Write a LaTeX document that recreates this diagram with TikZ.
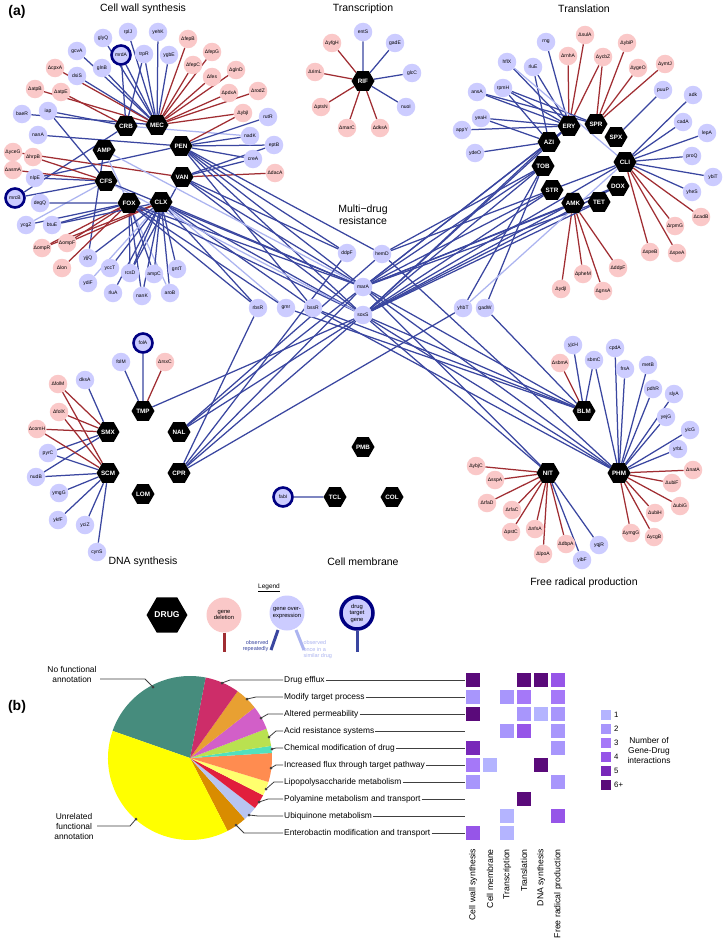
\documentclass[tikz,border=0pt]{standalone}
\usepackage{fontspec}
\setmainfont{Liberation Sans}
\usetikzlibrary{shapes.geometric,backgrounds}
\definecolor{ovr}{RGB}{204,204,255}
\definecolor{dln}{RGB}{250,200,200}
\definecolor{navy}{RGB}{0,0,130}
\definecolor{edgeb}{RGB}{58,70,160}
\definecolor{edger}{RGB}{160,45,50}
\definecolor{edgel}{RGB}{172,180,240}
\definecolor{lead}{RGB}{64,64,64}
\definecolor{c1}{RGB}{180,180,255}
\definecolor{c2}{RGB}{168,150,252}
\definecolor{c3}{RGB}{165,120,248}
\definecolor{c4}{RGB}{150,85,232}
\definecolor{c5}{RGB}{120,40,185}
\definecolor{c6}{RGB}{90,10,122}
\definecolor{pEnt}{RGB}{217,140,0}
\definecolor{pUbi}{RGB}{184,196,240}
\definecolor{pPol}{RGB}{225,30,60}
\definecolor{pLps}{RGB}{255,255,110}
\definecolor{pFlx}{RGB}{255,140,80}
\definecolor{pChm}{RGB}{80,225,190}
\definecolor{pAcd}{RGB}{185,225,80}
\definecolor{pPrm}{RGB}{210,95,200}
\definecolor{pMod}{RGB}{232,160,50}
\definecolor{pEff}{RGB}{205,45,105}
\definecolor{pNof}{RGB}{70,140,125}
\definecolor{pUnr}{RGB}{255,255,0}

\begin{document}
\begin{tikzpicture}[x=1pt,y=-1pt,
  gene/.style={circle,fill=ovr,minimum size=18.5pt,inner sep=0pt,font=\fontsize{5}{5}\selectfont},
  del/.style={gene,fill=dln},
  tgt/.style={gene,draw=navy,line width=2.6pt,minimum size=19pt},
  drug/.style={regular polygon,regular polygon sides=6,fill=black,text=white,minimum size=23pt,inner sep=0pt,font=\fontsize{6.3}{6}\selectfont\bfseries},
  up/.style={draw=edgeb,line width=1.25pt},
  dn/.style={draw=edger,line width=1.25pt},
  once/.style={draw=edgel,line width=1.25pt},
  ttl/.style={font=\fontsize{10.5}{12}\selectfont,align=center},
  lbl/.style={font=\fontsize{8.4}{9.5}\selectfont,anchor=west,inner sep=1pt},
  sq/.style={minimum size=14pt,inner sep=0pt},
  ptr/.style={draw=lead,line width=0.8pt},
  dot/.style={circle,fill=lead,inner sep=0pt,minimum size=3pt}]
\useasboundingbox (0,0) rectangle (724,942);

\node[font=\fontsize{14}{14}\selectfont\bfseries] (pa) at (17,12) {(a)};
\node[ttl] (t1) at (143,9) {Cell wall synthesis};
\node[ttl] (t2) at (363,9) {Transcription};
\node[ttl] (t3) at (584,9) {Translation};
\node[ttl] (t4) at (363,215) {Multi−drug\\resistance};
\node[ttl] (t5) at (143,562) {DNA synthesis};
\node[ttl] (t6) at (363,562) {Cell membrane};
\node[ttl] (t7) at (584,583) {Free radical production};

% cell wall synthesis
\node[drug] (CRB) at (126,126) {CRB};
\node[drug] (MEC) at (157,125) {MEC};
\node[drug] (AMP) at (104,150) {AMP};
\node[drug] (PEN) at (181,146) {PEN};
\node[drug] (CFS) at (106,181) {CFS};
\node[drug] (VAN) at (182,177) {VAN};
\node[drug] (FOX) at (129,203) {FOX};
\node[drug] (CLX) at (161,202) {CLX};
\node[gene] (glyQ) at (103,38) {glyQ};
\node[gene] (rplJ) at (128,32) {rplJ};
\node[gene] (yehK) at (158,32) {yehK};
\node[del] (dfepB) at (188,39) {ΔfepB};
\node[gene] (gcvA) at (77,51) {gcvA};
\node[tgt] (mrdA) at (121,55) {mrdA};
\node[gene] (trpR) at (144,54) {trpR};
\node[gene] (ygbE) at (169,55) {ygbE};
\node[del] (dfepG) at (212,52) {ΔfepG};
\node[del] (dcpxA) at (55,68) {ΔcpxA};
\node[gene] (glnB) at (102,68) {glnB};
\node[del] (dfepC) at (193,65) {ΔfepC};
\node[gene] (dsiS) at (77,76) {dsiS};
\node[del] (dglnD) at (236,70) {ΔglnD};
\node[del] (dfes) at (212,77) {Δfes};
\node[del] (datpB) at (35,89) {ΔatpB};
\node[del] (datpE) at (61,92) {ΔatpE};
\node[del] (dpdxA) at (229,93) {ΔpdxA};
\node[del] (drodZ) at (258,91) {ΔrodZ};
\node[gene] (baeR) at (22,114) {baeR};
\node[gene] (iap) at (48,111) {iap};
\node[del] (dybjI) at (243,113) {ΔybjI};
\node[gene] (rutR) at (268,117) {rutR};
\node[gene] (nanA) at (38,135) {nanA};
\node[gene] (nadK) at (250,136) {nadK};
\node[gene] (eptB) at (274,145) {eptB};
\node[gene] (creA) at (253,159) {creA};
\node[del] (ddacA) at (275,173) {ΔdacA};
\node[del] (dyceG) at (13,152) {ΔyceG};
\node[del] (dhrpB) at (33,157) {ΔhrpB};
\node[del] (dasmA) at (13,170) {ΔasmA};
\node[gene] (nlpE) at (35,178) {nlpE};
\node[tgt] (mrcB) at (15,198) {mrcB};
\node[gene] (degQ) at (40,203) {degQ};
\node[gene] (ycgZ) at (26,225) {ycgZ};
\node[gene] (btuE) at (52,225) {btuE};
\node[del] (dompR) at (42,248) {ΔompR};
\node[del] (dompF) at (67,243) {ΔompF};
\node[gene] (yjjQ) at (88,258) {yjjQ};
\node[del] (dlon) at (62,268) {Δlon};
\node[gene] (ydiF) at (88,283) {ydiF};
\node[gene] (yccT) at (110,268) {yccT};
\node[gene] (rcsD) at (130,273) {rcsD};
\node[gene] (ampC) at (154,274) {ampC};
\node[gene] (gntT) at (177,269) {gntT};
\node[gene] (rluA) at (113,293) {rluA};
\node[gene] (nanK) at (142,296) {nanK};
\node[gene] (aroB) at (170,293) {aroB};

% transcription
\node[drug] (RIF) at (363,81) {RIF};
\node[gene] (entS) at (363,32) {entS};
\node[del] (dyfgH) at (332,43) {ΔyfgH};
\node[gene] (gadE) at (395,43) {gadE};
\node[del] (drimL) at (315,72) {ΔrimL};
\node[gene] (glcC) at (412,73) {glcC};
\node[del] (dptsN) at (321,107) {ΔptsN};
\node[gene] (nuoI) at (406,107) {nuoI};
\node[del] (dmarC) at (347,128) {ΔmarC};
\node[del] (ddksA) at (380,128) {ΔdksA};

% translation
\node[drug] (ERY) at (569,126) {ERY};
\node[drug] (SPR) at (596,124) {SPR};
\node[drug] (AZI) at (549,142) {AZI};
\node[drug] (SPX) at (616,137) {SPX};
\node[drug] (CLI) at (625,162) {CLI};
\node[drug] (TOB) at (543,166) {TOB};
\node[drug] (STR) at (552,190) {STR};
\node[drug] (DOX) at (618,186) {DOX};
\node[drug] (AMK) at (573,203) {AMK};
\node[drug] (TET) at (599,202) {TET};
\node[gene] (rng) at (546,42) {rng};
\node[del] (dsulA) at (585,35) {ΔsulA};
\node[del] (dybiP) at (627,43) {ΔybiP};
\node[gene] (hflX) at (507,62) {hflX};
\node[gene] (rluE) at (533,67) {rluE};
\node[del] (drnhA) at (568,56) {ΔrnhA};
\node[del] (dycbZ) at (603,57) {ΔycbZ};
\node[del] (dygeO) at (638,68) {ΔygeO};
\node[del] (dymtJ) at (665,64) {ΔymtJ};
\node[gene] (rpmH) at (503,88) {rpmH};
\node[gene] (ansA) at (477,92) {ansA};
\node[gene] (puuP) at (663,90) {puuP};
\node[gene] (adk) at (693,95) {adk};
\node[gene] (yeaH) at (481,118) {yeaH};
\node[gene] (appY) at (462,130) {appY};
\node[gene] (cadA) at (683,122) {cadA};
\node[gene] (lepA) at (707,133) {lepA};
\node[gene] (ydeO) at (475,153) {ydeO};
\node[gene] (proQ) at (692,156) {proQ};
\node[gene] (ybiT) at (713,177) {ybiT};
\node[gene] (yheS) at (692,192) {yheS};
\node[del] (dcadB) at (701,217) {ΔcadB};
\node[del] (drpmG) at (675,226) {ΔrpmG};
\node[del] (dspeB) at (650,252) {ΔspeB};
\node[del] (dspeA) at (677,253) {ΔspeA};
\node[del] (dddpF) at (618,268) {ΔddpF};
\node[del] (dpheM) at (583,274) {ΔpheM};
\node[del] (dydjI) at (561,289) {ΔydjI};
\node[del] (dgnsA) at (603,291) {ΔgnsA};

% multi-drug resistance
\node[gene] (ddpF) at (347,253) {ddpF};
\node[gene] (hemD) at (382,254) {hemD};
\node[gene] (marA) at (363,287) {marA};
\node[gene] (rbsR) at (258,308) {rbsR};
\node[gene] (gmr) at (286,308) {gmr};
\node[gene] (bssR) at (313,308) {bssR};
\node[gene] (soxS) at (363,315) {soxS};
\node[gene] (yhbT) at (463,308) {yhbT};
\node[gene] (gadW) at (485,308) {gadW};

% DNA synthesis
\node[drug] (TMP) at (143,411) {TMP};
\node[drug] (SMX) at (108,432) {SMX};
\node[drug] (NAL) at (179,432) {NAL};
\node[drug] (SCM) at (108,473) {SCM};
\node[drug] (CPR) at (179,473) {CPR};
\node[drug] (LOM) at (143,494) {LOM};
\node[tgt] (folA) at (143,343) {folA};
\node[gene] (folM) at (121,362) {folM};
\node[del] (drsxC) at (165,362) {ΔrsxC};
\node[gene] (dksA) at (85,380) {dksA};
\node[del] (dfolM) at (58,384) {ΔfolM};
\node[del] (dfolX) at (59,412) {ΔfolX};
\node[del] (dcomH) at (37,429) {ΔcomH};
\node[gene] (pyrC) at (48,453) {pyrC};
\node[gene] (nudB) at (36,477) {nudB};
\node[gene] (ymgG) at (59,493) {ymgG};
\node[gene] (ykfF) at (58,520) {ykfF};
\node[gene] (yciZ) at (85,525) {yciZ};
\node[gene] (cynS) at (97,552) {cynS};

% cell membrane
\node[drug] (PMB) at (363,447) {PMB};
\node[drug] (TCL) at (335,497) {TCL};
\node[drug] (COL) at (392,497) {COL};
\node[tgt] (fabI) at (283,497) {fabI};

% free radical production
\node[drug] (BLM) at (584,411) {BLM};
\node[drug] (NIT) at (548,473) {NIT};
\node[drug] (PHM) at (619,473) {PHM};
\node[gene] (yjcH) at (573,345) {yjcH};
\node[gene] (cpdA) at (615,348) {cpdA};
\node[del] (dsbmA) at (560,363) {ΔsbmA};
\node[gene] (sbmC) at (594,360) {sbmC};
\node[gene] (frsA) at (625,369) {frsA};
\node[gene] (metB) at (648,365) {metB};
\node[gene] (pdhR) at (653,389) {pdhR};
\node[gene] (slyA) at (674,394) {slyA};
\node[gene] (yejG) at (666,417) {yejG};
\node[gene] (yicG) at (690,430) {yicG};
\node[gene] (yrbL) at (678,449) {yrbL};
\node[del] (dnatA) at (693,470) {ΔnatA};
\node[del] (dubiF) at (672,483) {ΔubiF};
\node[del] (dubiG) at (680,506) {ΔubiG};
\node[del] (dubiH) at (655,513) {ΔubiH};
\node[del] (dymgG) at (631,533) {ΔymgG};
\node[del] (dycgB) at (654,537) {ΔycgB};
\node[del] (dybjC) at (476,466) {ΔybjC};
\node[del] (dsspA) at (495,480) {ΔsspA};
\node[del] (drfaD) at (487,503) {ΔrfaD};
\node[del] (drfaC) at (512,510) {ΔrfaC};
\node[del] (dpstC) at (511,532) {ΔpstC};
\node[del] (dnfsA) at (535,529) {ΔnfsA};
\node[del] (dlpoA) at (543,554) {ΔlpoA};
\node[del] (ddbpA) at (566,544) {ΔdbpA};
\node[gene] (yqjR) at (599,545) {yqjR};
\node[gene] (yibF) at (582,560) {yibF};

% legend
\node[font=\fontsize{6.5}{7}\selectfont] (leg) at (269,588) {\underline{Legend}};
\node[drug,minimum size=39pt,font=\fontsize{8.5}{8}\selectfont\bfseries] (lDrug) at (167,615) {DRUG};
\node[del,minimum size=35pt,align=center,font=\fontsize{5.8}{6.5}\selectfont] (lDel) at (224,615) {gene\\deletion};
\node[gene,minimum size=35pt,align=center,font=\fontsize{5.8}{6.5}\selectfont] (lOvr) at (287,613) {gene over-\\expression};
\node[tgt,minimum size=32pt,line width=3.5pt,align=center,font=\fontsize{5.8}{6.5}\selectfont] (lTgt) at (357,613) {drug\\target\\gene};
\coordinate (eDel) at (224,652);
\coordinate (sRep) at (278,630);
\coordinate (eRep) at (271,650);
\coordinate (sOnc) at (296,630);
\coordinate (eOnc) at (304,650);
\coordinate (eTgt) at (357,652);
\draw[edger,line width=3pt] (lDel) -- (eDel);
\draw[edgeb,line width=3pt] (sRep) -- (eRep);
\draw[edgel,line width=3pt] (sOnc) -- (eOnc);
\draw[edgeb,line width=3pt] (lTgt) -- (eTgt);
\node[text=edgeb,align=right,anchor=east,font=\fontsize{5.5}{6.5}\selectfont] (tRep) at (272,646) {observed\\repeatedly};
\node[text=edgel,align=left,anchor=west,font=\fontsize{5.5}{6.5}\selectfont] (tOnc) at (300,650) {observed\\once in a\\similar drug};

\begin{scope}[on background layer]
\fill[white] (0,0) rectangle (724,942);
\foreach \g in {glyQ,rplJ,yehK,mrdA,trpR,ygbE,glnB,gcvA,dsiS,baeR} \draw[up] (MEC) -- (\g);
\foreach \g in {dfepB,dfepG,dfepC,dfes,dglnD,dpdxA,drodZ,dybjI,dcpxA,datpB} \draw[dn] (MEC) -- (\g);
\foreach \g in {iap,mrdA,trpR,mrcB} \draw[up] (CRB) -- (\g);
\draw[dn] (CRB) -- (datpE);
\draw[once] (CRB) -- (nadK);
\foreach \g in {nanA,rutR,nadK,eptB,creA,nlpE} \draw[up] (PEN) -- (\g);
\draw[dn] (PEN) -- (dybjI);
\foreach \g in {creA,eptB,rcsD} \draw[up] (VAN) -- (\g);
\foreach \g in {ddacA,dyceG} \draw[dn] (VAN) -- (\g);
\foreach \g in {nlpE,mrcB,iap} \draw[up] (CFS) -- (\g);
\foreach \g in {dhrpB,dasmA} \draw[dn] (CFS) -- (\g);
\draw[once] (CFS) -- (ycgZ);
\draw[once] (AMP) -- (aroB);
\draw[up] (AMP) -- (yjjQ);
\foreach \g in {degQ,btuE,rcsD,nanK,ampC,ycgZ} \draw[up] (FOX) -- (\g);
\foreach \g in {dlon,dompF,dompR} \draw[dn] (FOX) -- (\g);
\foreach \g in {yjjQ,yccT,ampC,gntT,rluA,aroB,nanK,rcsD,btuE} \draw[up] (CLX) -- (\g);
\draw[once] (CLX) -- (ydiF);
\foreach \g in {dompF,dompR} \draw[dn] (CLX) -- (\g);
\foreach \g in {entS,gadE,glcC,nuoI} \draw[up] (RIF) -- (\g);
\foreach \g in {dyfgH,drimL,dptsN,dmarC,ddksA} \draw[dn] (RIF) -- (\g);
\foreach \g in {rng,hflX,rluE,rpmH,ansA,yeaH,appY} \draw[up] (ERY) -- (\g);
\foreach \g in {drnhA,dsulA,dycbZ} \draw[dn] (ERY) -- (\g);
\foreach \g in {rpmH,ansA} \draw[up] (SPR) -- (\g);
\foreach \g in {dycbZ,dybiP,dygeO,dymtJ} \draw[dn] (SPR) -- (\g);
\foreach \g in {rluE,rpmH,yeaH,ydeO} \draw[up] (AZI) -- (\g);
\draw[up] (SPX) -- (puuP);
\foreach \g in {adk,cadA,lepA,proQ,ybiT,yheS} \draw[up] (CLI) -- (\g);
\foreach \g in {dcadB,drpmG,dspeB,dspeA} \draw[dn] (CLI) -- (\g);
\draw[once] (CLI) -- (hflX);
\foreach \g in {dydjI,dpheM,dgnsA,dddpF} \draw[dn] (AMK) -- (\g);
\foreach \g in {ddpF,marA,soxS,hemD,bssR} \draw[up] (PEN) -- (\g);
\foreach \g in {marA,soxS,ddpF} \draw[up] (VAN) -- (\g);
\foreach \g in {marA,soxS,rbsR,bssR} \draw[up] (CLX) -- (\g);
\draw[once] (CLX) -- (gmr);
\foreach \g in {marA,soxS,rbsR,gmr} \draw[up] (FOX) -- (\g);
\draw[once] (AMP) -- (marA);
\draw[once] (CFS) -- (soxS);
\draw[up] (CFS) -- (marA);
\foreach \d in {ERY,AZI,TOB,STR,AMK,TET,DOX} {\draw[up] (\d) -- (marA); \draw[up] (\d) -- (soxS);}
\foreach \g in {hemD,yhbT} \draw[up] (TOB) -- (\g);
\draw[up] (TOB) -- (gadW);
\draw[up] (CLI) -- (soxS);
\draw[up] (CLI) -- (hemD);
\draw[once] (CLI) -- (yhbT);
\foreach \g in {marA,soxS,hemD} \draw[up] (NAL) -- (\g);
\foreach \g in {marA,soxS,rbsR,yhbT,ddpF} \draw[up] (CPR) -- (\g);
\draw[up] (TMP) -- (soxS);
\foreach \g in {marA,soxS,gmr,bssR,gadW} \draw[up] (BLM) -- (\g);
\foreach \g in {marA,soxS,bssR,hemD} \draw[up] (PHM) -- (\g);
\foreach \g in {marA,soxS} \draw[up] (NIT) -- (\g);
\foreach \g in {folA,folM} \draw[up] (TMP) -- (\g);
\draw[dn] (TMP) -- (drsxC);
\foreach \g in {dksA,pyrC,nudB} \draw[up] (SMX) -- (\g);
\foreach \g in {dfolM,dfolX,dcomH} \draw[dn] (SMX) -- (\g);
\foreach \g in {pyrC,nudB,ymgG,ykfF,yciZ,cynS} \draw[up] (SCM) -- (\g);
\foreach \g in {dfolM,dfolX,dcomH} \draw[dn] (SCM) -- (\g);
\draw[up] (TCL) -- (fabI);
\foreach \g in {yjcH,sbmC} \draw[up] (BLM) -- (\g);
\draw[dn] (BLM) -- (dsbmA);
\foreach \g in {sbmC,cpdA,frsA,metB,pdhR,slyA,yejG,yicG,yrbL} \draw[up] (PHM) -- (\g);
\foreach \g in {dnatA,dubiF,dubiG,dubiH,dymgG,dycgB} \draw[dn] (PHM) -- (\g);
\foreach \g in {dybjC,dsspA,drfaD,drfaC,dpstC,dnfsA,dlpoA,ddbpA} \draw[dn] (NIT) -- (\g);
\foreach \g in {yqjR,yibF} \draw[up] (NIT) -- (\g);
\end{scope}

% panel b
\node[font=\fontsize{14}{14}\selectfont\bfseries] (pb) at (17,707) {(b)};
\begin{scope}[shift={(190,758)},yscale=-1]
\foreach \a/\b/\c in {-62.8/-48/pEnt,-48/-37.6/pUbi,-37.6/-27/pPol,-27/-17/pLps,-17/3.5/pFlx,3.5/8.5/pChm,8.5/21/pAcd,21/38/pPrm,38/54.5/pMod,54.5/79/pEff,79/160.7/pNof,160.7/297.2/pUnr}
  \fill[\c] (0,0) -- (\a:82) arc[start angle=\a, end angle=\b, radius=82] -- cycle;
\end{scope}

\coordinate (gx) at (465,0);
\foreach \i/\t/\px/\py/\kx in {1/Drug efflux/222/683/230,
  2/Modify target process/247/699/256,
  3/Altered permeability/261/718/268,
  4/Acid resistance systems/269/737/276,
  5/Chemical modification of drug/272/749/276,
  6/Increased flux through target pathway/271/768/276,
  7/Lipopolysaccharide metabolism/266/789/274,
  8/Polyamine metabolism and transport/259/802/268,
  9/Ubiquinone metabolism/249/815/258,
  10/Enterobactin modification and transport/236/825/244}{
  \node[lbl] (r\i) at (283,{663+17*\i}) {\t};
  \node[dot] (d\i) at (\px,\py) {};
  \coordinate (k\i) at (\kx,{663+17*\i});
  \draw[ptr] (d\i.center) -- (k\i) -- (r\i.west);
  \draw[ptr] (r\i.east) -- (r\i.east -| gx);
}
\node[font=\fontsize{8.4}{10}\selectfont,align=center] (nof) at (72,674) {No functional\\annotation};
\node[dot] (dnof) at (153,687) {};
\coordinate (knof) at (145,679);
\draw[ptr] (dnof.center) -- (knof) -- (knof -| nof.east);
\node[font=\fontsize{8.4}{10}\selectfont,align=center] (unr) at (74,826) {Unrelated\\functional\\annotation};
\node[dot] (dunr) at (136,819) {};
\coordinate (kunr) at (130,826);
\draw[ptr] (dunr.center) -- (kunr) -- (unr.east);

\foreach \r/\c/\v in {1/1/6,1/4/6,1/5/6,1/6/4,
  2/1/2,2/3/2,2/4/3,2/6/3,
  3/1/6,3/4/2,3/5/1,3/6/2,
  4/3/2,4/4/4,4/6/2,
  5/1/5,5/6/2,
  6/1/3,6/2/1,6/5/6,
  7/1/2,7/6/2,
  8/4/6,
  9/3/1,9/6/4,
  10/1/4,10/3/1}
  \node[sq,fill=c\v] (m\r-\c) at ({456+17*\c},{663+17*\r}) {};

\foreach \c/\t in {1/Cell wall synthesis,2/Cell membrane,3/Transcription,4/Translation,5/DNA synthesis,6/Free radical production}
  \node[rotate=90,anchor=east,font=\fontsize{8.7}{9}\selectfont,inner sep=0pt] (col\c) at ({456+17*\c},849) {\t};

\foreach \v/\t in {1/1,2/2,3/3,4/4,5/5,6/6+}{
  \node[minimum size=10pt,inner sep=0pt,fill=c\v] (k\v) at (606,{701+14*\v}) {};
  \node[anchor=west,font=\fontsize{7.8}{8}\selectfont,inner sep=0pt] (kt\v) at (614,{701+14*\v}) {\t};
}
\node[font=\fontsize{8.4}{10}\selectfont,align=center] (ktl) at (649,750) {Number of\\Gene-Drug\\interactions};
\end{tikzpicture}
\end{document}
